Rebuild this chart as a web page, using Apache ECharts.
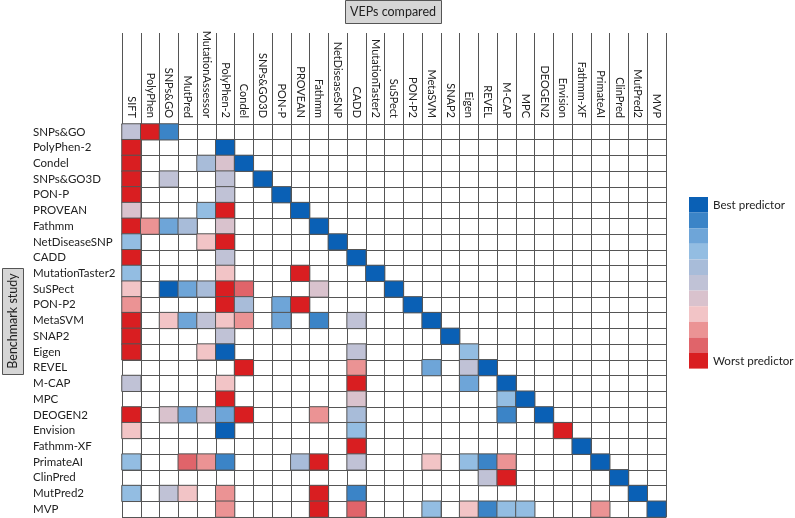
<!DOCTYPE html>
<html><head><meta charset="utf-8">
<script src="https://cdn.jsdelivr.net/npm/echarts@6/dist/echarts.min.js"></script>
<style>html,body{margin:0;padding:0;background:#fff}#c{width:795px;height:518px}</style>
</head><body><div id="c"></div>
<script>
const studies = ['SNPs&GO','PolyPhen-2','Condel','SNPs&GO3D','PON-P','PROVEAN','Fathmm','NetDiseaseSNP','CADD','MutationTaster2','SuSPect','PON-P2','MetaSVM','SNAP2','Eigen','REVEL','M-CAP','MPC','DEOGEN2','Envision','Fathmm-XF','PrimateAI','ClinPred','MutPred2','MVP'];
const veps = ['SIFT','PolyPhen','SNPs&GO','MutPred','MutationAssessor','PolyPhen-2','Condel','SNPs&GO3D','PON-P','PROVEAN','Fathmm','NetDiseaseSNP','CADD','MutationTaster2','SuSPect','PON-P2','MetaSVM','SNAP2','Eigen','REVEL','M-CAP','MPC','DEOGEN2','Envision','Fathmm-XF','PrimateAI','ClinPred','MutPred2','MVP'];
// rank level: 0 = best predictor ... 10 = worst predictor
const r_SNPsGO = [['SIFT',5],['PolyPhen',10],['SNPs&GO',1]];
const r_PolyPhen2 = [['SIFT',10],['PolyPhen-2',0]];
const r_Condel = [['SIFT',10],['MutationAssessor',4],['PolyPhen-2',6],['Condel',0]];
const r_SNPsGO3D = [['SIFT',10],['SNPs&GO',5],['PolyPhen-2',5],['SNPs&GO3D',0]];
const r_PONP = [['SIFT',10],['PolyPhen-2',5],['PON-P',0]];
const r_PROVEAN = [['SIFT',6],['MutationAssessor',3],['PolyPhen-2',10],['PROVEAN',0]];
const r_Fathmm = [['SIFT',10],['PolyPhen',8],['SNPs&GO',2],['MutPred',4],['PolyPhen-2',6],['Fathmm',0]];
const r_NetDiseaseSNP = [['SIFT',3],['MutationAssessor',7],['PolyPhen-2',10],['NetDiseaseSNP',0]];
const r_CADD = [['SIFT',10],['PolyPhen-2',5],['CADD',0]];
const r_MutationTaster2 = [['SIFT',3],['PolyPhen-2',7],['PROVEAN',10],['MutationTaster2',0]];
const r_SuSPect = [['SIFT',7],['SNPs&GO',0],['MutPred',2],['MutationAssessor',4],['PolyPhen-2',10],['Condel',9],['Fathmm',6],['SuSPect',0]];
const r_PONP2 = [['SIFT',8],['PolyPhen-2',10],['Condel',4],['PON-P',2],['PROVEAN',10],['PON-P2',0]];
const r_MetaSVM = [['SIFT',10],['SNPs&GO',7],['MutPred',2],['MutationAssessor',5],['PolyPhen-2',7],['Condel',8],['PON-P',2],['Fathmm',1],['CADD',5],['MetaSVM',0]];
const r_SNAP2 = [['SIFT',10],['PolyPhen-2',5],['SNAP2',0]];
const r_Eigen = [['SIFT',10],['MutationAssessor',7],['PolyPhen-2',0],['CADD',5],['Eigen',3]];
const r_REVEL = [['Condel',10],['CADD',8],['MetaSVM',2],['Eigen',5],['REVEL',0]];
const r_MCAP = [['SIFT',5],['PolyPhen-2',7],['CADD',10],['Eigen',2],['M-CAP',0]];
const r_MPC = [['PolyPhen-2',10],['CADD',6],['M-CAP',3],['MPC',0]];
const r_DEOGEN2 = [['SIFT',10],['SNPs&GO',6],['MutPred',2],['MutationAssessor',6],['PolyPhen-2',2],['Condel',10],['Fathmm',8],['CADD',4],['M-CAP',1],['DEOGEN2',0]];
const r_Envision = [['SIFT',7],['PolyPhen-2',0],['CADD',3],['Envision',10]];
const r_FathmmXF = [['CADD',10],['Fathmm-XF',0]];
const r_PrimateAI = [['SIFT',3],['MutPred',9],['MutationAssessor',8],['PolyPhen-2',1],['PROVEAN',4],['Fathmm',10],['CADD',5],['MetaSVM',7],['Eigen',3],['REVEL',1],['M-CAP',8],['PrimateAI',0]];
const r_ClinPred = [['REVEL',5],['M-CAP',10],['ClinPred',0]];
const r_MutPred2 = [['SIFT',3],['SNPs&GO',5],['MutPred',7],['PolyPhen-2',8],['Fathmm',10],['CADD',1],['MutPred2',0]];
const r_MVP = [['PolyPhen-2',8],['Fathmm',10],['CADD',9],['MetaSVM',3],['Eigen',7],['REVEL',1],['M-CAP',3],['MPC',3],['PrimateAI',8],['MVP',0]];
const studyRatings = [r_SNPsGO,r_PolyPhen2,r_Condel,r_SNPsGO3D,r_PONP,r_PROVEAN,r_Fathmm,r_NetDiseaseSNP,r_CADD,r_MutationTaster2,r_SuSPect,r_PONP2,r_MetaSVM,r_SNAP2,r_Eigen,r_REVEL,r_MCAP,r_MPC,r_DEOGEN2,r_Envision,r_FathmmXF,r_PrimateAI,r_ClinPred,r_MutPred2,r_MVP];
const levels = [0,1,2,3,4,5,6,7,8,9,10];
const levelColors = ['#0a60b5','#3b84c7','#6ea5d8','#93bde2','#a8bcd9','#c0c2d6','#d9c2cd','#f2c4c6','#eb9394','#e0646a','#d91e21'];
const levelNames = {0:'Best predictor',10:'Worst predictor'};

const data = [];
studyRatings.forEach((list, ri) => {
  list.forEach(([v, lvl]) => data.push([veps.indexOf(v), ri, lvl]));
});

const FONT = 'Lato';
const chart = echarts.init(document.getElementById('c'));
chart.setOption({
  animation: false,
  textStyle: {fontFamily: FONT},
  grid: {left: 122, top: 124, width: 544, height: 393},
  xAxis: {
    type: 'category', data: veps, position: 'top',
    axisLine: {show: true, lineStyle: {color: '#555', width: 1}},
    axisTick: {show: true, length: 91, interval: 0, lineStyle: {color: '#555', width: 1}},
    axisLabel: {rotate: 90, margin: 6, interval: 0, fontSize: 11, color: '#222', fontFamily: FONT, padding: [0, 0, 4, 0]},
    splitLine: {show: true, interval: 0, lineStyle: {color: '#555', width: 1}},
    splitArea: {show: false}
  },
  yAxis: {
    type: 'category', data: studies, inverse: true,
    axisLine: {show: true, lineStyle: {color: '#555', width: 1}},
    axisTick: {show: false},
    axisLabel: {align: 'left', margin: 89, interval: 0, fontSize: 11.5, color: '#222', fontFamily: FONT},
    splitLine: {show: true, interval: 0, lineStyle: {color: '#555', width: 1}}
  },
  visualMap: {
    type: 'piecewise', dimension: 2, orient: 'vertical', inverse: true, align: 'left',
    left: 689, top: 197, itemWidth: 19, itemHeight: 15.6, itemGap: 0, itemSymbol: 'rect',
    textGap: 5, padding: 0, hoverLink: false, selectedMode: false,
    pieces: levels.map(l => ({value: l, color: levelColors[l]})),
    formatter: function (v) { return levelNames[v] || ''; },
    textStyle: {fontSize: 11.6, color: '#222', fontFamily: FONT}
  },
  series: [{
    type: 'heatmap', data: data,
    itemStyle: {borderColor: '#555', borderWidth: 1},
    emphasis: {disabled: true}
  }],
  graphic: [
    {type: 'rect', left: 345, top: 0, shape: {width: 96, height: 23}, style: {fill: '#d6d6d6', stroke: '#555', lineWidth: 1}},
    {type: 'text', x: 393, y: 12, style: {text: 'VEPs compared', fontSize: 12.5, fontFamily: FONT, fill: '#222', align: 'center', verticalAlign: 'middle'}},
    {type: 'rect', left: 2, top: 268, shape: {width: 21, height: 106}, style: {fill: '#d6d6d6', stroke: '#555', lineWidth: 1}},
    {type: 'text', x: 13, y: 321, rotation: Math.PI / 2, style: {text: 'Benchmark study', fontSize: 12.5, fontFamily: FONT, fill: '#222', align: 'center', verticalAlign: 'middle'}}
  ]
});
</script>
</body></html>
